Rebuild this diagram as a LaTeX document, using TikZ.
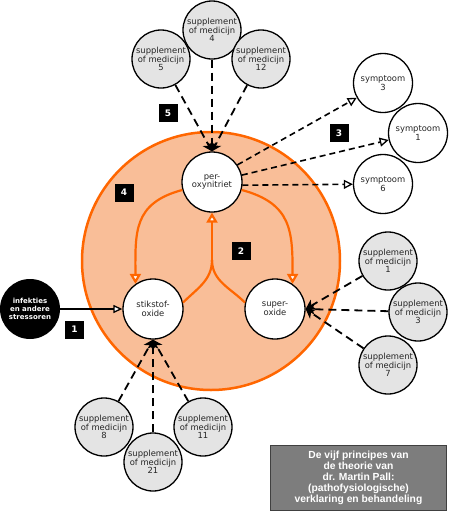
\documentclass[tikz,border=0pt]{standalone}
\usepackage{fontspec}
\setmainfont{DejaVu Sans}
\newfontfamily\titlefont{Liberation Sans}
\usetikzlibrary{arrows.meta}
\definecolor{org}{RGB}{255,102,0}
\definecolor{peach}{RGB}{249,190,152}
\definecolor{supgray}{RGB}{228,228,228}
\definecolor{boxgray}{RGB}{125,125,125}
\begin{document}
\begin{tikzpicture}[x=1pt,y=-1pt,
  circ/.style={circle, draw=black, line width=1.3pt, minimum size=58pt, inner sep=0pt, align=center, font=\fontsize{8.4}{8.6}\selectfont, text=black!85},
  supp/.style={circ, fill=supgray},
  mainc/.style={circ, fill=white, minimum size=60pt},
  sympt/.style={circ, fill=white, minimum size=59pt},
  numbox/.style={fill=black, text=white, minimum width=19pt, minimum height=18pt, inner sep=0pt, font=\fontsize{9}{9}\selectfont\bfseries},
  supline/.style={draw=black, dash pattern=on 8pt off 5pt, line width=1.8pt, -{Stealth[length=9pt,width=11pt,inset=2.5pt]}},
  symline/.style={draw=black, dash pattern=on 6pt off 4pt, line width=1.6pt, -{Triangle[open,fill=white,length=9pt,width=9pt,line width=1.3pt]}},
  oline/.style={draw=org, line width=2.2pt, -{Triangle[open, fill=white, length=10pt, width=11pt]}},
  ojoin/.style={draw=org, line width=2.2pt}
]
\useasboundingbox (0,0) rectangle (448,512);
\fill[white] (0,0) rectangle (448,512);

% big circle
\draw[org, fill=peach, line width=2.5pt] (211,261) circle[radius=129];

% main nodes
\node[mainc] (per) at (212,182) {per-\\oxynitriet};
\node[mainc] (stik) at (153,309) {stikstof-\\oxide};
\node[mainc] (super) at (275,309) {super-\\oxide};

% orange connectors
\draw[oline] (per.195) to[out=195,in=90,looseness=1.25] (stik.125);
\draw[oline] (per.345) to[out=-15,in=90,looseness=1.25] (super.55);
\coordinate (j) at (212,260);
\draw[ojoin] (stik.12) to[out=45,in=270] (j);
\draw[ojoin] (super.168) to[out=135,in=270] (j);
\draw[oline] (j) -- (per.south);

% infekties
\node[circle, fill=black, minimum size=60pt, inner sep=0pt, align=center, text=white, font=\fontsize{7}{7.7}\selectfont\bfseries] (inf) at (30,309) {infekties\\en andere\\stressoren};
\draw[line width=1.3pt, -{Triangle[open,fill=white,length=9pt,width=8pt]}] (inf) -- (stik);

% top supplements
\node[supp] (s4) at (212,30) {supplement\\of medicijn\\4};
\node[supp] (s5) at (161,59) {supplement\\of medicijn\\5};
\node[supp] (s12) at (261,59) {supplement\\of medicijn\\12};
\draw[supline] (s5) -- (per.north);
\draw[supline] (s4) -- (per.north);
\draw[supline] (s12) -- (per.north);

% right supplements
\node[supp] (s1) at (388,261) {supplement\\of medicijn\\1};
\node[supp] (s3) at (418,312) {supplement\\of medicijn\\3};
\node[supp] (s7) at (388,365) {supplement\\of medicijn\\7};
\draw[supline] (s1) -- (super.east);
\draw[supline] (s3) -- (super.east);
\draw[supline] (s7) -- (super.east);

% bottom supplements
\node[supp] (s8) at (104,427) {supplement\\of medicijn\\8};
\node[supp] (s21) at (153,462) {supplement\\of medicijn\\21};
\node[supp] (s11) at (203,427) {supplement\\of medicijn\\11};
\draw[supline] (s8) -- (stik.south);
\draw[supline] (s21) -- (stik.south);
\draw[supline] (s11) -- (stik.south);

% symptoms
\node[sympt] (y3) at (383,83) {symptoom\\3};
\node[sympt] (y1) at (418,133) {symptoom\\1};
\node[sympt] (y6) at (383,184) {symptoom\\6};
\draw[symline] (per.34) -- (y3);
\draw[symline] (per.13) -- (y1);
\draw[symline] (per.-6) -- (y6);

% number boxes
\node[numbox] (n1) at (74.5,329.5) {1};
\node[numbox] (n2) at (241,251) {2};
\node[numbox] (n3) at (339,133) {3};
\node[numbox] (n4) at (124,192.5) {4};
\node[numbox] (n5) at (168,113) {5};

% title
\node[draw=black!75, line width=1pt, fill=boxgray, text=white, font=\titlefont\fontsize{10.3}{11}\selectfont\bfseries, align=center, minimum width=176pt, minimum height=65pt, inner sep=0pt] (title) at (358.5,478) {De vijf principes van\\de theorie van\\dr. Martin Pall:\\(pathofysiologische)\\verklaring en behandeling};
\end{tikzpicture}
\end{document}
